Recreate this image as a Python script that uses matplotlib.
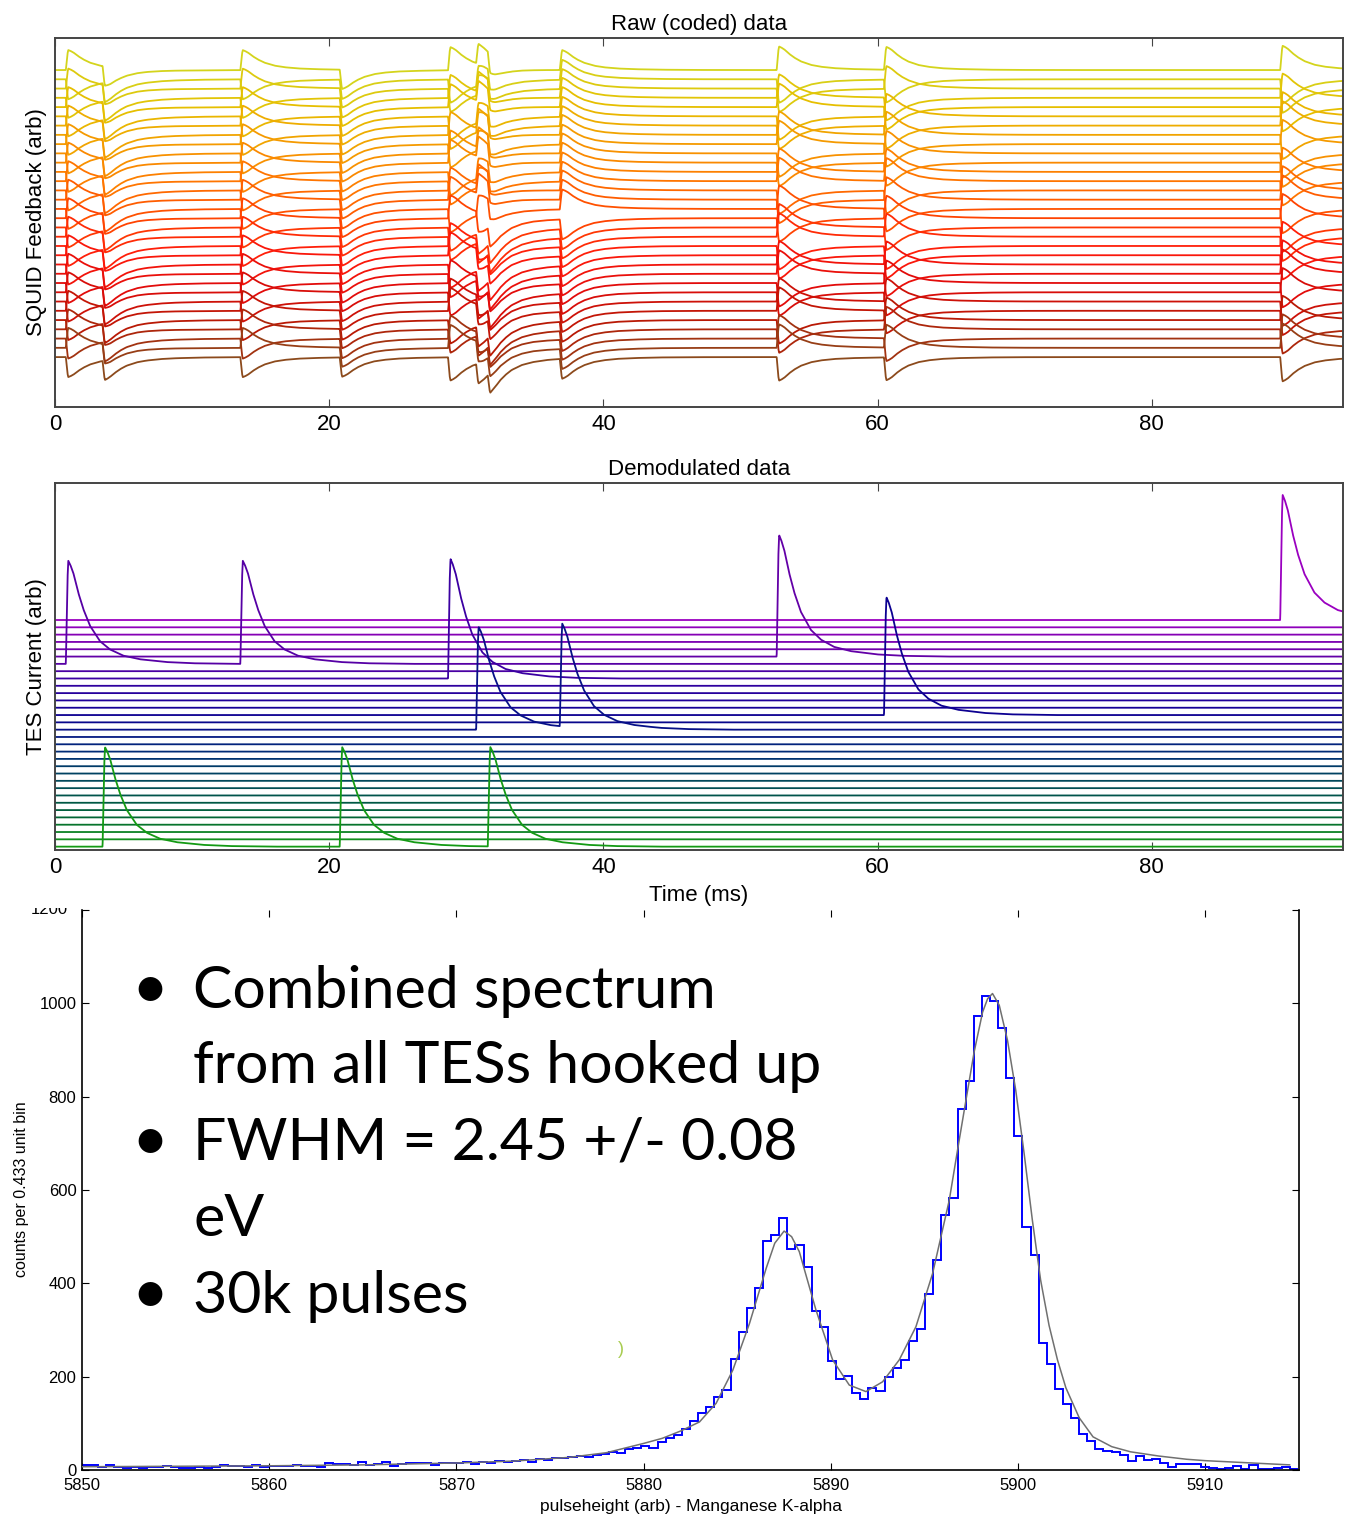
import numpy as np
import matplotlib
matplotlib.use("Agg")
import matplotlib.pyplot as plt
from matplotlib.colors import LinearSegmentedColormap
from matplotlib.transforms import Bbox, TransformedBbox

plt.rcParams['font.family'] = ['Liberation Sans', 'DejaVu Sans']

# ---------------- data ----------------
N_CHAN = 32
TIME_MAX = 93.95
# pulse events: peak time (ms), TES index (0 = top trace), demodulated peak height (trace spacings)
event_times = [0.97, 3.65, 13.70, 20.95, 28.85, 30.90, 31.75, 37.00, 52.82, 60.65, 89.55]
event_tes = [6, 31, 6, 31, 8, 15, 31, 15, 5, 13, 0]
event_peaks = [14.1, 13.6, 14.1, 13.6, 16.35, 14.05, 13.6, 14.05, 16.6, 16.1, 17.1]
# normalised pulse template read from the TES 6 pulse (delay from peak in ms)
pulse_delay = [-0.18, -0.12, -0.06, 0.0, 0.15, 0.37, 0.73, 1.10, 1.58, 2.31, 3.04, 4.00, 5.20, 7.10, 9.00, 12.0]
pulse_shape = [0.0, 0.40, 0.82, 1.0, 0.96, 0.88, 0.69, 0.53, 0.37, 0.22, 0.14, 0.08, 0.045, 0.018, 0.006, 0.0]
# Walsh code signs of each pulsing TES on the 32 raw channels (top to bottom)
walsh_code = {
    0:  "+--+-++-+--+-++-+--+-++-+--+-++-",
    5:  "+--++--++--++--+-++--++--++--++-",
    6:  "+-+-+-+-+-+-+-+-+-+-+-+-+-+-+-+-",
    8:  "+--++--+-++--++-+--++--+-++--++-",
    13: "+-+--+-+-+-++-+-+-+--+-+-+-++-+-",
    15: "++++++++++++++++----------------",
    31: "--------------------------------",
}
raw_gain = 0.153
time_ticks = [0, 20, 40, 60, 80]

# spectrum
hist_start = 5850.0
hist_bin = 0.433
hist_counts = [
    10, 10, 7, 10, 7, 5, 6, 4, 6, 6,
    8, 6, 5, 5, 6, 5, 6, 10, 9, 9,
    7, 10, 6, 9, 8, 9, 11, 8, 9, 7,
    14, 13, 12, 10, 17, 11, 12, 18, 9, 13,
    15, 15, 16, 10, 14, 15, 16, 17, 12, 18,
    15, 20, 17, 19, 22, 18, 24, 22, 26, 25,
    28, 30, 27, 33, 35, 38, 36, 44, 48, 52,
    47, 60, 68, 75, 88, 104,
    122, 135, 157, 171, 237, 295, 348, 389, 491, 503,
    539, 473, 483, 434, 340, 307, 233, 194, 201, 164,
    153, 175, 170, 200, 219, 236, 276, 303, 377, 450,
    546, 582, 773, 834, 972, 1016, 1005, 948, 839, 716,
    521, 460, 273, 227, 173, 141, 112,
    77, 63, 44, 41, 39, 32, 20, 31, 21, 23,
    16, 6, 13, 13, 13, 6, 4, 3, 5, 9,
    3, 10, 3, 3, 4, 6, 3,
]
fit_x = [5850, 5855, 5860, 5865, 5870, 5873, 5876, 5878, 5880, 5881,
         5882, 5882.98, 5883.87, 5884.76, 5885.65, 5886.54, 5887.0, 5887.5, 5887.9, 5888.31,
         5889.2, 5890.09, 5890.98, 5891.87, 5892.76, 5893.65, 5894.54, 5895.43, 5896.32, 5896.76,
         5897.21, 5897.65, 5898.1, 5898.37, 5898.63, 5898.99, 5899.43, 5899.87, 5900.32, 5900.76,
         5901.2, 5901.65, 5902.1, 5902.55, 5903.26, 5904, 5905, 5906, 5907.5, 5909,
         5910, 5912, 5914.5]
fit_y = [7, 8, 9, 11, 15, 19, 27, 37, 57, 68,
         84, 103, 143, 214, 314, 432, 486, 512, 500, 468,
         343, 236, 182, 168, 189, 236, 307, 421, 578, 685,
         792, 896, 981, 1010, 1021, 996, 921, 814, 678, 535,
         407, 310, 236, 176, 112, 71, 50, 39, 30, 23,
         20, 16, 11]
spec_xticks = [5850, 5860, 5870, 5880, 5890, 5900, 5910]
spec_yticks = [0, 200, 400, 600, 800, 1000, 1200]

bullet_lines = [
    (True, "Combined spectrum"),
    (False, "from all TESs hooked up"),
    (True, "FWHM = 2.45 +/- 0.08"),
    (False, "eV"),
    (True, "30k pulses"),
]

# colours
raw_colors = ["#d4d41c", "#e6c000", "#f49c00", "#ff7a00", "#ff4a00",
              "#ff1a0a", "#e00a0a", "#b81a05", "#8c4a1c"]
demod_colors = ["#9a00c0", "#6a00a8", "#3000a0", "#0a0090", "#002a78",
                "#004a5a", "#006038", "#149a14"]

# ---------------- build traces ----------------
W, H = 1350, 1515
fig = plt.figure(figsize=(W / 100, H / 100), dpi=100)

t = np.linspace(0, TIME_MAX, 6001)
demod = np.zeros((N_CHAN, t.size))
for t0, k, p in zip(event_times, event_tes, event_peaks):
    demod[k] += p * np.interp(t - t0, pulse_delay, pulse_shape, left=0.0, right=0.0)

raw = np.zeros((N_CHAN, t.size))
for k, code in walsh_code.items():
    s = np.array([1.0 if c == "+" else -1.0 for c in code])
    raw += s[:, None] * demod[k][None, :]
raw *= raw_gain

cmap_raw = LinearSegmentedColormap.from_list("raw", raw_colors)
cmap_dem = LinearSegmentedColormap.from_list("dem", demod_colors)


def fr(x0, y0, x1, y1):
    return [x0 / W, 1 - y1 / H, (x1 - x0) / W, (y1 - y0) / H]


def style_trace_axes(ax):
    for sp in ax.spines.values():
        sp.set_color("#444444")
        sp.set_linewidth(1.4)
    ax.set_xlim(0, TIME_MAX)
    ax.set_xticks(time_ticks)
    ax.set_xticklabels([str(v) for v in time_ticks])
    ax.tick_params(axis="x", direction="in", top=True, bottom=True, length=6,
                   width=0.8, color="#444444", labelsize=16, pad=5)
    ax.set_yticks([])


# top: raw coded data
ax1 = fig.add_axes(fr(55, 38, 1343, 407))
for i in range(N_CHAN):
    ax1.plot(t, -i + raw[i], color=cmap_raw(i / (N_CHAN - 1)), lw=1.3)
ax1.set_ylim(-36.39, 3.46)
style_trace_axes(ax1)
ax1.set_title("Raw (coded) data", fontsize=16, pad=6)
ax1.set_ylabel("SQUID Feedback (arb)", fontsize=16)
ax1.yaxis.set_label_coords(-0.006, 0.5)

# middle: demodulated data
ax2 = fig.add_axes(fr(55, 483, 1343, 850))
for i in range(N_CHAN):
    ax2.plot(t, -i + demod[i], color=cmap_dem(i / (N_CHAN - 1)), lw=1.3)
ax2.set_ylim(-31.46, 18.74)
style_trace_axes(ax2)
ax2.set_title("Demodulated data", fontsize=16, pad=6)
ax2.set_ylabel("TES Current (arb)", fontsize=16)
ax2.yaxis.set_label_coords(-0.006, 0.5)
ax2.set_xlabel("Time (ms)", fontsize=16)
ax2.xaxis.set_label_coords(0.5, -0.095)

# bottom: spectrum
ax3 = fig.add_axes(fr(82, 910, 1299, 1470))
edges = hist_start + hist_bin * np.arange(len(hist_counts) + 1)
ax3.stairs(hist_counts, edges, baseline=None, color="#0000ff", lw=1.4, zorder=2)
ax3.plot(fit_x, fit_y, color="#707070", lw=1.1, zorder=3)
ax3.set_xlim(5850, 5915)
ax3.set_ylim(0, 1200)
ax3.set_xticks(spec_xticks)
ax3.set_xticklabels([str(v) for v in spec_xticks])
ax3.set_yticks(spec_yticks)
ax3.set_yticklabels([str(v) for v in spec_yticks[:-1]] + [""])
ax3.tick_params(direction="in", top=True, right=True, length=5, width=0.8,
                labelsize=12, pad=4)
ax3.tick_params(axis="x", pad=6)
ax3.spines["top"].set_visible(False)
for sp in ["left", "right", "bottom"]:
    ax3.spines[sp].set_linewidth(1.2)
ax3.set_xlabel("pulseheight (arb) - Manganese K-alpha", fontsize=12.5)
ax3.xaxis.set_label_coords(0.5, -0.052)
ax3.set_ylabel("counts per 0.433 unit bin", fontsize=11.5)
ax3.yaxis.set_label_coords(-0.0436, 0.502)
# partially cropped top tick label
lab = ax3.text(-0.012, 1.0, str(spec_yticks[-1]), transform=ax3.transAxes,
               ha="right", va="center", fontsize=12)
lab.set_clip_on(True)
lab.set_clip_box(TransformedBbox(Bbox([[0, 0], [1, 1 - 908 / H]]), fig.transFigure))

# slide bullet text
baselines = [1008, 1083, 1160, 1236, 1313]
for (has_bullet, txt), yb in zip(bullet_lines, baselines):
    if has_bullet:
        fig.text(131 / W, 1 - yb / H, "\u2022", fontsize=46, family="Lato",
                 va="baseline", ha="left")
    fig.text(193 / W, 1 - yb / H, txt, fontsize=42.5, family="Lato",
             va="baseline", ha="left")
fig.text(621 / W, 1 - 1350 / H, ")", color="#a8cc50", fontsize=13,
         ha="center", va="center")

fig.savefig("out.png", dpi=100)
